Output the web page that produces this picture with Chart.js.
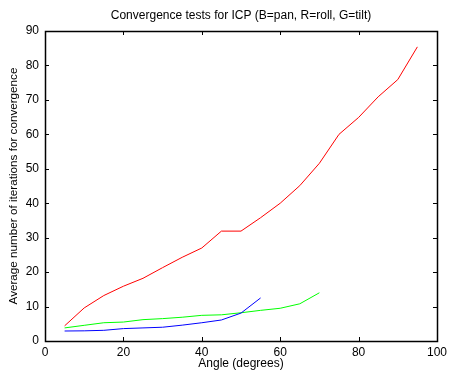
<!DOCTYPE html>
<html>
<head>
<meta charset="utf-8">
<script src="https://cdn.jsdelivr.net/npm/chart.js@4"></script>
<style>
  html, body { margin: 0; padding: 0; background: #fff; }
  canvas { display: block; }
</style>
</head>
<body>
<canvas id="c" width="451" height="371"></canvas>
<script>
// Data
const rollAngles = [5, 10, 15, 20, 25, 30, 35, 40, 45, 50, 55, 60, 65, 70, 75, 80, 85, 90, 95];
const rollIters  = [4.4, 9.6, 13.2, 15.9, 18.2, 21.3, 24.3, 27.0, 31.9, 31.9, 35.8, 40.0, 45.1, 51.6, 60.0, 64.9, 70.9, 75.9, 85.4];

const panAngles  = [5, 10, 15, 20, 25, 30, 35, 40, 45, 50, 55];
const panIters   = [2.9, 2.95, 3.1, 3.6, 3.8, 4.0, 4.6, 5.3, 6.1, 8.1, 12.5];

const tiltAngles = [5, 10, 15, 20, 25, 30, 35, 40, 45, 50, 55, 60, 65, 70];
const tiltIters  = [3.8, 4.55, 5.3, 5.5, 6.2, 6.5, 6.9, 7.45, 7.6, 8.2, 8.9, 9.5, 10.8, 14.0];

const xTicks = [0, 20, 40, 60, 80, 100];
const yTicks = [0, 10, 20, 30, 40, 50, 60, 70, 80, 90];

const titleText = 'Convergence tests for ICP (B=pan, R=roll, G=tilt)';
const xTitle = 'Angle (degrees)';
const yTitle = 'Average number of iterations for convergence';

function pts(xs, ys) { return xs.map((x, i) => ({ x: x, y: ys[i] })); }

const FONT = "'Liberation Sans', Arial, Helvetica, sans-serif";
Chart.defaults.color = '#000';
Chart.defaults.font.family = FONT;
Chart.defaults.font.size = 12;

const boxTicks = {
  id: 'boxTicks',
  afterDatasetsDraw(chart) {
    const ctx = chart.ctx;
    const a = chart.chartArea;
    const xs = chart.scales.x, ys = chart.scales.y;
    const L = 4;
    ctx.save();
    ctx.strokeStyle = '#000';
    ctx.lineWidth = 1;
    ctx.beginPath();
    xTicks.forEach(v => {
      const px = Math.round(xs.getPixelForValue(v)) + 0.5;
      ctx.moveTo(px, a.bottom); ctx.lineTo(px, a.bottom - L);
      ctx.moveTo(px, a.top); ctx.lineTo(px, a.top + L);
    });
    yTicks.forEach(v => {
      const py = Math.round(ys.getPixelForValue(v)) + 0.5;
      ctx.moveTo(a.left, py); ctx.lineTo(a.left + L, py);
      ctx.moveTo(a.right, py); ctx.lineTo(a.right - L, py);
    });
    ctx.stroke();
    ctx.lineWidth = 1.5;
    ctx.strokeRect(Math.round(a.left) + 0.5, Math.round(a.top) + 0.5,
                   Math.round(a.right - a.left), Math.round(a.bottom - a.top));
    ctx.restore();
  }
};

new Chart(document.getElementById('c'), {
  type: 'line',
  data: {
    datasets: [
      { label: 'pan', data: pts(panAngles, panIters), borderColor: '#0000ff' },
      { label: 'roll', data: pts(rollAngles, rollIters), borderColor: '#ff0000' },
      { label: 'tilt', data: pts(tiltAngles, tiltIters), borderColor: '#00ff00' }
    ]
  },
  options: {
    responsive: false,
    animation: false,
    devicePixelRatio: 1,
    layout: { padding: { left: 0, right: 11, top: 0, bottom: 0 } },
    elements: {
      line: { borderWidth: 1, tension: 0, fill: false },
      point: { radius: 0, hoverRadius: 0 }
    },
    plugins: {
      legend: { display: false },
      tooltip: { enabled: false },
      title: {
        display: true,
        fullSize: false,
        text: titleText,
        color: '#000',
        font: { family: FONT, size: 12, weight: 'normal' },
        padding: { top: 8, bottom: 8.6 }
      }
    },
    scales: {
      x: {
        type: 'linear',
        min: 0, max: 100,
        afterFit(s) { s.height = 30; },
        afterBuildTicks(s) { s.ticks = xTicks.map(v => ({ value: v })); },
        grid: { display: false, drawTicks: false },
        border: { display: false },
        ticks: { padding: 4, maxRotation: 0, autoSkip: false, color: '#000', font: { family: FONT, size: 12 } },
        title: { display: true, text: xTitle, color: '#000', padding: { top: -3, bottom: 0 }, font: { family: FONT, size: 12 } }
      },
      y: {
        type: 'linear',
        min: 0, max: 90,
        afterFit(s) { s.width = 45; },
        afterBuildTicks(s) { s.ticks = yTicks.map(v => ({ value: v })); },
        grid: { display: false, drawTicks: false },
        border: { display: false },
        ticks: { padding: 6, autoSkip: false, color: '#000', font: { family: FONT, size: 12 } },
        title: { display: true, text: yTitle, color: '#000', padding: { top: 7, bottom: 0 }, font: { family: FONT, size: 11.7 } }
      }
    }
  },
  plugins: [boxTicks]
});
</script>
</body>
</html>
